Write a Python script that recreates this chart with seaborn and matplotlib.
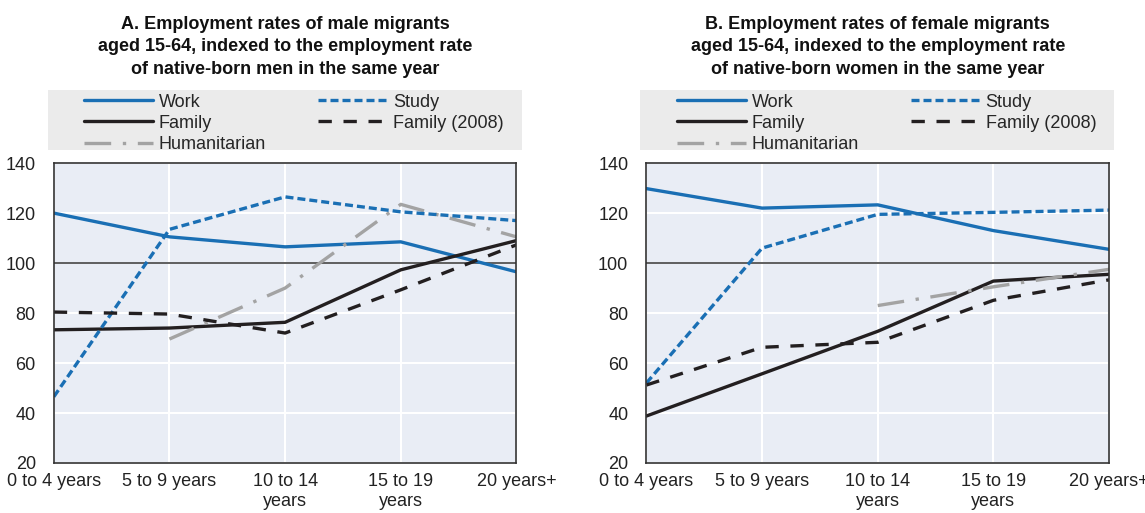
import numpy as np
import pandas as pd
import seaborn as sns
import matplotlib.pyplot as plt
from matplotlib.patches import Rectangle

# Duration of stay categories
categories = ['0 to 4 years', '5 to 9 years', '10 to 14\nyears', '15 to 19\nyears', '20 years+']

# Panel A - men
men_work = [120, 110.5, 106.5, 108.5, 96.5]
men_study = [46.5, 113.5, 126.5, 120.5, 117]
men_family = [73.3, 74, 76.3, 97.3, 109]
men_family_2008 = [80.4, 79.6, 72, 89.3, 107.3]
men_humanitarian = [np.nan, 69.6, 90, 123.5, 110.5]

# Panel B - women
women_work = [129.8, 122, 123.3, 113, 105.5]
women_study = [52, 106, 119.5, 120.3, 121.2]
women_family = [38.8, 55.7, 72.7, 92.8, 95.5]
women_family_2008 = [51.2, 66.3, 68.3, 85.1, 93.3]
women_humanitarian = [np.nan, np.nan, 83, 90.5, 97.5]

titles = ['A. Employment rates of male migrants\naged 15-64, indexed to the employment rate\nof native-born men in the same year',
          'B. Employment rates of female migrants\naged 15-64, indexed to the employment rate\nof native-born women in the same year']

blue = '#1a6fb4'
black = '#231f20'
grey = '#a3a3a3'

# style for each series: (label, colour, dashes)
styles = [
    ('Work', blue, None),
    ('Family', black, None),
    ('Humanitarian', grey, (8, 3.5, 1, 3.5)),
    ('Study', blue, (2.4, 1.2)),
    ('Family (2008)', black, (4, 3.5)),
]

sns.set_style('white')
plt.rcParams['font.family'] = ['Liberation Sans', 'DejaVu Sans']

fig, axes = plt.subplots(1, 2, figsize=(11.45, 5.13), dpi=100)
fig.subplots_adjust(left=0.047, right=0.9686, top=0.682, bottom=0.0975, wspace=0.281)

panels = [
    [men_work, men_family, men_humanitarian, men_study, men_family_2008],
    [women_work, women_family, women_humanitarian, women_study, women_family_2008],
]

x = np.arange(len(categories))
for ax, series, title in zip(axes, panels, titles):
    ax.set_facecolor('#e9edf5')
    ax.axhline(100, color='#333333', lw=1.1, zorder=1)
    for (label, color, dashes), values in zip(styles, series):
        df = pd.DataFrame({'x': x, 'y': values}).dropna()
        sns.lineplot(data=df, x='x', y='y', ax=ax, color=color, lw=2.4, label=label, legend=False)
        if dashes:
            ax.lines[-1].set_dashes(dashes)
    ax.set_xlim(0, len(categories) - 1)
    ax.set_ylim(20, 140)
    ax.set_yticks(range(20, 141, 20))
    ax.set_xticks(x)
    ax.set_xticklabels(categories, fontsize=13, color='#222222', linespacing=1.25)
    ax.tick_params(axis='y', labelsize=13, colors='#222222', length=0, pad=13)
    ax.tick_params(axis='x', length=0, pad=7)
    ax.grid(True, color='white', lw=1.5, zorder=0)
    ax.set_axisbelow(True)
    ax.set_xlabel('')
    ax.set_ylabel('')
    for s in ax.spines.values():
        s.set_color('#333333')
        s.set_linewidth(1.2)
    ax.set_title(title, fontsize=13, fontweight='bold', color='#111111', pad=64, linespacing=1.45)

    # grey legend band above the plot
    ax.add_patch(Rectangle((-0.013, 1.043), 1.024, 0.2, transform=ax.transAxes,
                           facecolor='#ebebeb', edgecolor='none', clip_on=False, zorder=0))
    lines = ax.lines[1:]
    kw = dict(loc='upper left', frameon=False, fontsize=13, handlelength=3.8, handletextpad=0.33,
              borderpad=0, borderaxespad=0, labelspacing=0.23)
    leg1 = ax.legend(lines[:3], [s[0] for s in styles[:3]], bbox_to_anchor=(0.066, 1.232), **kw)
    ax.add_artist(leg1)
    ax.legend(lines[3:], [s[0] for s in styles[3:]], bbox_to_anchor=(0.572, 1.232), **kw)

plt.savefig('out.png', dpi=100)
